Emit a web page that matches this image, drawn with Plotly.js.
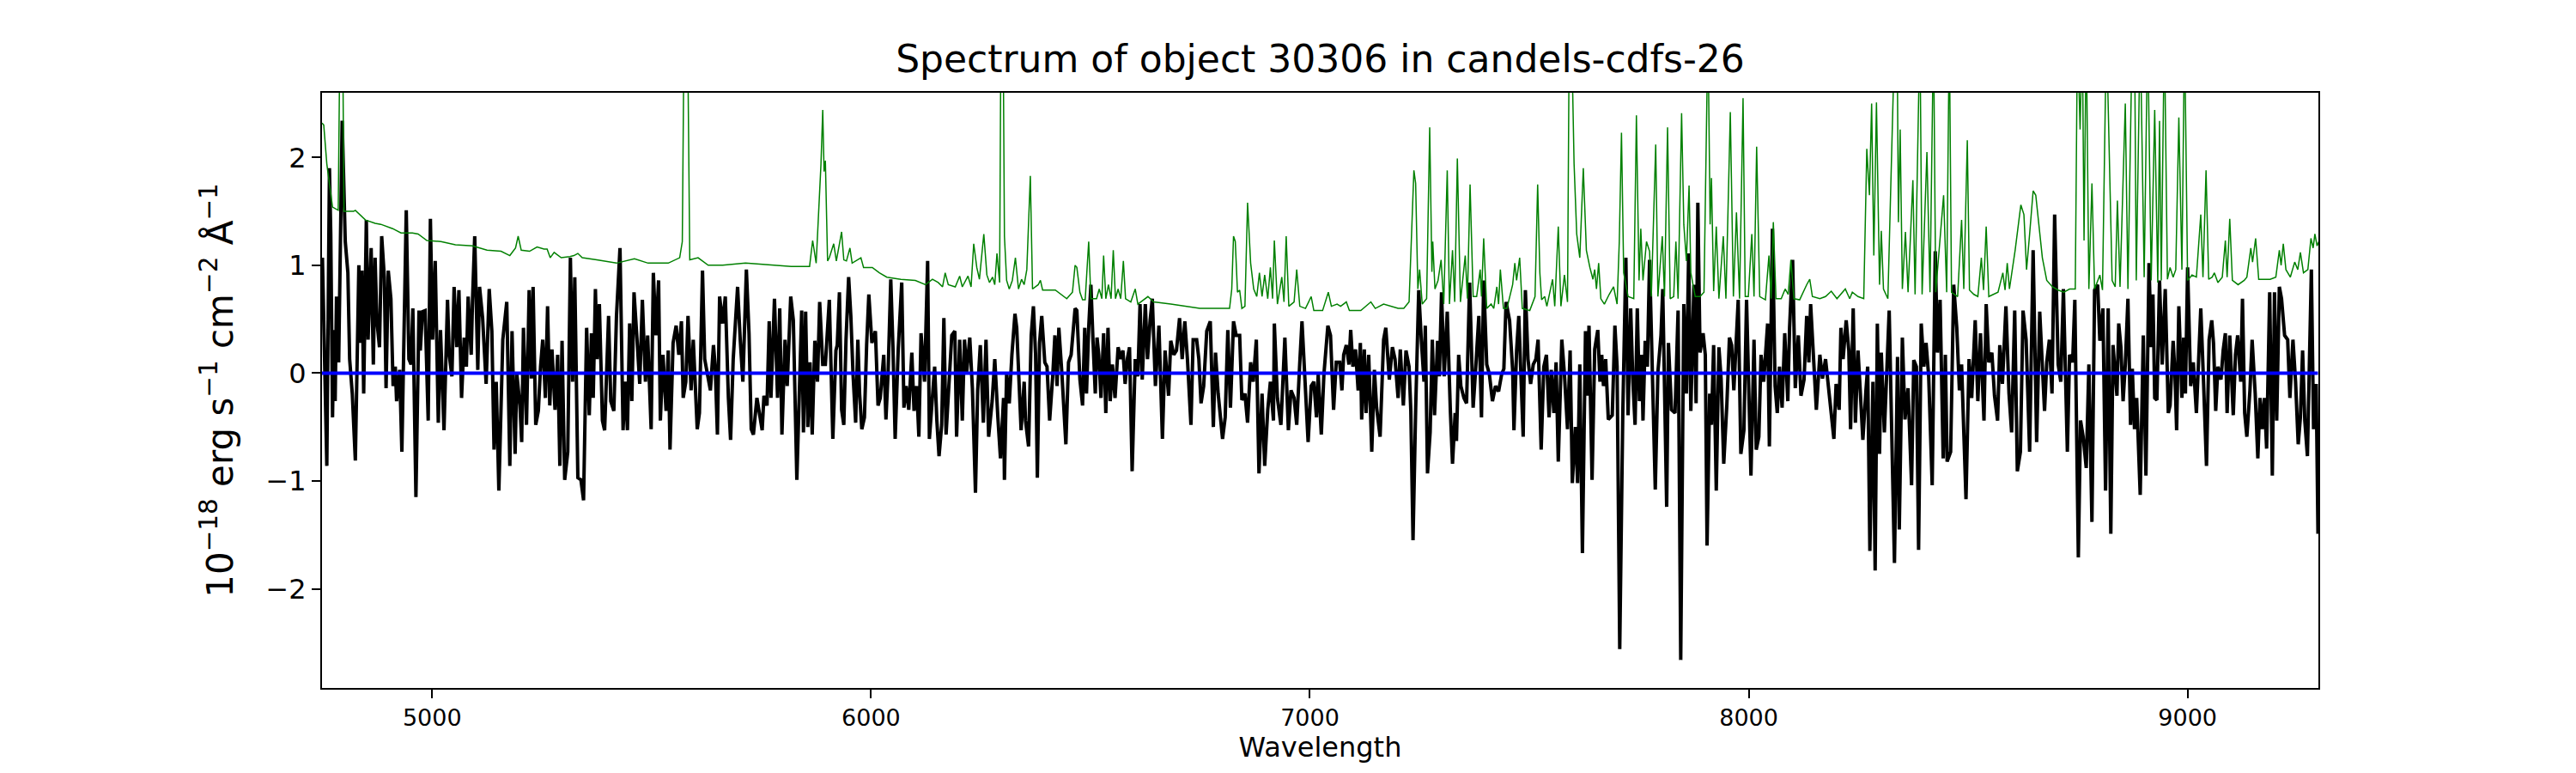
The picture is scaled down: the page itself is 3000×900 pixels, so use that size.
<!DOCTYPE html>
<html>
<head>
<meta charset="utf-8">
<script src="https://cdn.plot.ly/plotly-3.0.1.min.js"></script>
<style>
  html, body { margin: 0; padding: 0; background: #fff; }
  #plot { width: 3000px; height: 900px; }
</style>
</head>
<body>
<div id="plot"></div>
<script>
// object spectrum (Angstrom, 1e-18 erg/s/cm2/A)
var wave = [
  4749,4750,4760,4766,4769,4773,4776,4779,4782,4787,
  4795,4802,4808,4812,4818,4825,4833,4836,4840,4844,
  4850,4854,4861,4866,4870,4874,4880,4885,4891,4895,
  4900,4906,4911,4916,4919,4926,4931,4941,4947,4952,
  4956,4963,4970,4973,4978,4984,4991,4996,5001,5007,
  5014,5019,5027,5035,5039,5045,5050,5056,5061,5067,
  5073,5078,5082,5089,5092,5097,5104,5108,5115,5123,
  5130,5136,5141,5146,5152,5161,5170,5177,5182,5189,
  5193,5200,5204,5208,5215,5221,5226,5230,5236,5242,
  5247,5252,5258,5263,5268,5273,5280,5286,5291,5296,
  5302,5309,5315,5320,5325,
  5332,5339,5345,5352,5358,5363,5367,5372,5376,5381,
  5388,5393,5402,5407,5414,5420,5428,5435,5440,5445,
  5450,5455,5460,5467,5473,5479,5486,5491,5499,5504,
  5510,5516,5520,5526,5533,5538,5542,5549,5556,5562,
  5568,5572,5578,5583,5590,5595,5600,5604,5609,5616,
  5621,5628,5634,5641,5645,5650,5655,5662,5668,5675,
  5680,5686,5696,5702,5708,5716,5722,5727,5732,5740,
  5746,5752,5756,5763,5768,5772,5780,5787,5792,5797,
  5804,5809,5817,5823,5831,5838,5842,5846,5851,5856,
  5861,5866,5872,5878,5883,5890,5896,5905,
  5913,5920,5923,5928,5933,5938,5943,5949,5954,5959,
  5965,5970,5974,5979,5985,5990,5995,6002,6010,6016,
  6021,6029,6034,6039,6045,6050,6055,6062,6070,6075,
  6080,6086,6093,6098,6104,6109,6114,6122,6129,6133,
  6139,6145,6150,6155,6161,6166,6171,6179,6184,6191,
  6195,6202,6208,6213,6218,6225,6231,6238,6243,6249,
  6256,6262,6268,6276,6282,6289,6295,6302,6304,6309,
  6315,6321,6328,6332,6337,6342,6349,6352,6359,6365,
  6370,6375,6379,6384,6389,6396,6401,6407,6414,6419,
  6424,6428,6435,6440,6444,6450,6456,6465,6469,6476,
  6482,6487,
  6491,6496,6501,6506,6511,6515,6519,6524,6530,6535,
  6540,6545,6550,6556,6563,6569,6574,6579,6584,6589,
  6595,6602,6608,6613,6618,6625,6630,6636,6641,6648,
  6656,6664,6670,6678,6683,6690,6696,6703,6709,6715,
  6721,6729,6734,6742,6747,6752,6758,6765,6773,6780,
  6785,6791,6796,6801,6807,6813,6819,6826,6832,6840,
  6845,6852,6858,6865,6871,6878,6884,6891,6897,6904,
  6910,6917,6919,6926,6934,6943,6951,6957,6964,6970,
  6977,6982,6989,6996,7003,7009,7015,7019,7026,7032,
  7041,7047,7054,7060,7068,7073,
  7077,7083,7089,7093,7098,7104,7110,7115,7118,7124,
  7128,7134,7141,7147,7152,7160,7168,7173,7181,7188,
  7194,7201,7206,7213,7219,7226,7230,7235,7241,7248,
  7254,7260,7263,7268,7274,7279,7284,7291,7295,7300,
  7306,7313,7320,7325,7331,7334,7339,7344,7351,7357,
  7364,7372,7377,7385,7391,7396,7403,7409,7416,7423,
  7430,7437,7442,7447,7455,7462,7465,7471,7476,7481,
  7486,7491,7497,7503,7509,7515,7520,7527,7533,7539,
  7545,7550,7556,7561,7566,7574,7580,7587,7593,7598,
  7605,7610,7615,7621,7628,7632,7636,7643,7649,
  7656,7661,7665,7669,7674,7680,7689,7695,7700,7706,
  7713,7720,7725,7731,7736,7741,7746,7751,7756,7759,
  7764,7769,7774,7780,7787,7793,7800,7804,7813,7817,
  7824,7832,7839,7845,7852,7858,7863,7868,7875,7880,
  7884,7889,7896,7901,7905,7911,7915,7920,7926,7932,
  7937,7943,7950,7956,7961,7966,7971,7976,7982,7989,
  7995,8000,8005,8012,8017,8023,8028,8034,8043,8047,
  8054,8060,8065,8070,8076,8082,8089,8093,8100,8106,
  8113,8119,8126,8132,8137,8141,8147,8154,8162,8168,
  8175,8181,8188,8194,8199,8206,8210,8215,8222,8228,
  8232,8238,
  8243,8249,8254,8260,8267,8271,8276,8283,8288,8293,
  8298,8302,8309,8314,8320,8326,8332,8339,8343,8350,
  8356,8363,8371,8376,8382,8387,8393,8399,8404,8410,
  8418,8425,8430,8436,8443,8448,8452,8460,8467,8474,
  8480,8485,8490,8495,8502,8508,8516,8522,8528,8536,
  8541,8547,8554,8560,8567,8572,8578,8586,8593,8599,
  8606,8612,8619,8625,8632,8640,8648,8656,8663,8669,
  8674,8679,8685,8691,8697,8705,8711,8717,8721,8726,
  8731,8738,8743,8751,8756,8762,8769,8775,8782,8788,
  8795,8800,8807,8813,8819,
  8825,8830,8835,8839,8843,8848,8853,8858,8864,8870,
  8874,8879,8884,8892,8899,8905,8912,8917,8921,8925,
  8930,8936,8942,8949,8956,8960,8967,8971,8975,8980,
  8987,8991,8995,9000,9007,9013,9020,9024,9030,9036,
  9043,9049,9055,9059,9064,9069,9076,9081,9086,9090,
  9096,9104,9109,9114,9121,9125,9130,9135,9142,9147,
  9154,9160,9165,9170,9175,9180,9187,9193,9198,9203,
  9209,9214,9221,9228,9233,9240,9246,9252,9257,9262,
  9267,9273,9277,9282,9287,9293,9297
];
var flux = [
  0.50,1.07,-0.86,1.90,1.29,-0.41,0.40,-0.26,0.71,0.10,
  2.34,1.22,0.93,0.13,-0.19,-0.81,1.00,0.28,0.95,-0.19,
  1.42,0.31,1.16,0.08,1.07,0.49,0.24,1.27,0.89,-0.14,
  0.95,0.69,-0.12,0.06,-0.26,0.03,-0.73,1.51,0.13,0.08,
  0.60,-1.15,0.58,0.21,0.57,0.58,-0.44,1.43,0.31,1.04,
  -0.46,0.40,-0.53,0.68,0.17,-0.03,0.80,0.24,0.77,-0.23,
  0.33,0.06,0.71,0.17,0.68,1.27,0.03,0.80,0.51,-0.10,
  0.78,0.39,-0.71,-0.08,-1.09,0.31,0.66,-0.86,0.39,-0.75,
  -0.01,-0.30,-0.64,0.42,-0.48,0.77,-0.05,0.80,-0.48,-0.35,
  0.06,0.31,-0.23,0.62,-0.30,0.22,-0.34,0.17,-0.86,0.30,
  -0.99,-0.73,1.07,-0.08,0.89,
  -0.97,-0.99,-1.18,0.42,-0.39,0.37,-0.23,0.78,0.13,0.64,
  -0.44,-0.53,0.53,-0.26,-0.35,0.53,1.16,-0.53,-0.08,-0.53,
  0.46,-0.26,0.75,0.30,-0.10,0.68,-0.08,0.35,-0.52,0.93,
  0.35,0.86,-0.44,0.17,-0.35,0.21,-0.71,0.28,0.44,0.17,
  0.48,-0.23,-0.08,0.53,-0.16,0.31,-0.21,-0.52,-0.37,0.95,
  0.13,-0.01,-0.16,0.26,0.06,-0.57,0.71,0.46,0.71,-0.23,
  -0.62,0.13,0.80,0.31,-0.08,0.96,0.37,-0.52,-0.57,-0.23,
  -0.39,-0.53,-0.21,-0.30,0.48,-0.23,0.69,-0.23,0.60,-0.57,
  0.31,-0.12,0.71,0.49,-0.99,-0.08,0.58,-0.55,0.57,-0.50,
  0.10,-0.57,0.30,-0.08,0.66,0.08,0.08,0.68,
  -0.61,0.21,0.26,0.75,-0.34,-0.48,0.31,0.89,0.53,-0.01,
  -0.46,0.31,-0.19,-0.52,-0.41,0.26,0.73,0.28,0.39,-0.30,
  -0.23,0.17,-0.43,0.01,0.87,0.24,-0.61,0.22,0.84,-0.32,
  -0.12,-0.34,0.19,-0.35,-0.12,-0.59,0.37,-0.08,1.04,-0.61,
  -0.23,0.06,-0.44,-0.77,-0.48,0.51,-0.57,-0.01,0.35,0.39,
  -0.59,0.31,-0.44,0.31,0.01,0.33,-0.14,-1.11,-0.16,0.26,
  -0.46,0.31,-0.59,-0.26,0.13,-0.41,-0.79,-0.23,-0.99,0.01,
  -0.28,0.17,0.55,0.42,-0.03,-0.53,-0.08,-0.44,-0.68,0.35,
  0.62,0.17,-0.97,0.28,0.53,0.10,0.06,-0.44,-0.03,0.35,
  -0.12,0.42,-0.01,-0.41,-0.66,0.10,0.17,0.60,0.58,-0.06,
  -0.30,0.42,
  -0.19,0.42,0.82,0.28,-0.19,0.33,0.17,-0.23,0.37,-0.37,
  0.42,-0.26,0.08,-0.23,0.24,0.13,0.21,-0.10,0.13,0.24,
  -0.91,0.13,-0.03,0.64,-0.06,0.64,0.13,0.49,0.69,-0.12,
  0.44,-0.61,0.21,-0.21,0.30,0.17,0.21,0.51,0.13,0.48,
  0.13,-0.48,0.31,0.31,0.13,-0.28,-0.12,0.39,0.48,-0.50,
  0.19,-0.19,-0.41,-0.61,-0.41,0.40,-0.32,0.48,0.35,0.35,
  -0.25,-0.19,-0.46,0.10,-0.08,0.31,-0.93,-0.19,-0.86,-0.34,
  -0.08,-0.44,0.46,-0.23,-0.48,0.33,-0.53,-0.16,-0.23,-0.48,
  0.10,0.48,-0.08,-0.64,-0.12,-0.08,-0.41,-0.01,-0.57,-0.01,
  0.44,0.35,-0.34,0.10,0.10,-0.16,
  0.17,0.26,0.08,0.40,0.06,0.22,-0.16,0.28,-0.43,0.22,
  -0.37,0.17,-0.73,0.03,-0.32,-0.59,0.31,0.42,-0.06,0.24,
  0.13,-0.23,0.22,-0.30,0.21,0.06,-0.35,-1.55,-0.34,0.77,
  0.30,-0.08,0.44,-0.93,-0.55,0.31,-0.39,0.30,-0.03,0.75,
  -0.03,0.57,-0.34,-0.84,-0.37,-0.63,0.17,-0.12,-0.23,-0.28,
  0.84,-0.32,-0.01,0.53,-0.41,0.86,0.08,-0.01,-0.26,-0.12,
  -0.17,-0.01,0.04,0.66,0.49,0.03,-0.53,0.21,0.53,-0.01,
  -0.59,0.77,0.13,-0.10,0.08,0.13,0.31,-0.71,0.06,0.17,
  -0.41,0.03,-0.37,0.10,-0.82,0.31,-0.01,-0.52,0.21,-1.02,
  -0.50,-1.02,0.08,-1.67,0.39,-0.21,0.44,-0.99,0.22,
  0.40,-0.08,0.17,-0.12,0.13,-0.43,-0.39,0.44,0.06,-2.56,
  -0.37,1.07,-0.39,0.60,-0.08,-0.48,0.60,-0.26,0.17,-0.44,
  0.30,0.06,1.05,-0.03,-1.08,0.01,0.35,0.78,-1.24,0.28,
  -0.34,-0.37,0.58,-2.66,0.64,-0.19,1.11,-0.35,0.82,-0.28,
  1.58,0.19,0.37,0.17,-1.60,-0.19,-0.48,0.26,-1.09,0.24,
  -0.05,-0.84,-0.30,0.33,0.26,-0.16,0.28,0.68,-0.75,-0.53,
  0.68,-0.23,-0.95,0.31,-0.71,-0.59,0.17,-0.08,0.46,-0.68,
  1.34,-0.12,-0.37,0.06,-0.32,0.37,-0.26,0.42,1.05,-0.14,
  0.35,-0.21,-0.06,0.53,0.10,0.64,0.12,-0.34,0.17,-0.05,
  0.13,-0.12,-0.41,-0.61,-0.10,-0.34,0.42,0.13,0.49,0.21,
  -0.52,0.60,
  -0.46,0.21,-0.16,-0.62,-0.16,0.06,-1.65,-0.08,-1.83,0.46,
  -0.75,0.19,-0.55,0.01,0.58,-0.59,-1.76,0.15,-1.45,0.33,
  -0.43,-0.14,-1.04,0.12,0.06,-1.64,0.46,0.06,0.28,-0.03,
  -1.04,1.13,0.19,0.68,-0.79,0.17,-0.82,-0.73,0.82,0.42,
  -0.16,0.08,-0.50,-1.17,0.13,-0.23,0.49,-0.26,0.37,-0.44,
  0.64,0.10,0.19,-0.21,-0.44,0.26,-0.10,0.62,-0.19,-0.55,
  0.58,-0.91,-0.73,0.58,0.31,-0.73,1.14,-0.64,0.57,0.06,
  -0.35,0.10,0.31,-0.19,1.47,0.08,-0.08,0.78,0.21,-0.73,
  0.17,0.10,0.68,-1.71,-0.44,-0.59,-0.88,0.08,-1.38,0.77,
  0.82,0.30,0.60,-1.09,0.60,
  -1.49,0.26,-0.01,-0.21,0.46,0.24,-0.26,0.08,0.69,-0.48,
  0.04,-0.52,-0.23,-1.13,0.35,-0.95,1.02,0.24,0.73,-0.23,
  -0.25,0.86,0.08,0.78,-0.37,-0.30,0.30,0.01,-0.53,0.62,
  -0.23,0.33,-0.19,0.98,-0.12,0.10,-0.37,0.10,0.60,-0.05,
  -0.86,0.31,0.49,0.28,-0.35,0.06,-0.06,0.21,0.37,-0.37,
  0.35,-0.39,0.17,0.35,-0.08,0.69,-0.37,-0.59,-0.16,0.31,
  -0.19,-0.79,-0.23,-0.52,-0.23,-0.70,0.75,-0.95,0.75,-0.44,
  0.80,0.69,0.35,0.31,-0.23,0.31,-0.08,-0.66,-0.41,0.21,
  -0.44,-0.77,0.17,0.96,-0.52,-0.10,-1.49
];

// noise / sky spectrum (green)
var noiseWave = [
  4749,4753,4760,4765,4773,4786,4790,4796,4799,4821,
  4825,4848,4870,4883,4910,4929,4955,4968,4988,5020,
  5053,5092,5125,5157,5177,5190,5196,5203,5222,5239,
  5255,5262,5269,5278,5294,5314,
  5323,5332,5342,5375,5420,5461,5492,5538,5564,5570,
  5574,5582,5587,5606,5629,5662,5714,5779,5818,5860,
  5867,5875,5886,5890,5893,5896,5901,
  5905,5915,5921,5933,5938,5944,5952,5957,5977,5983,
  6003,6019,6036,6068,6101,6124,6140,6153,6163,6169,
  6176,6192,6202,6208,6221,6228,6234,6241,6247,6257,
  6264,6270,6277,6282,6287,6293,6296,6301,6304,6309,
  6315,6322,6329,6336,6343,6349,6355,6363,6368,6381,
  6386,6391,6420,6446,6459,6465,6469,6476,6482,
  6488,6496,6501,6514,6520,6526,6530,6535,6541,6547,
  6552,6557,6563,6569,6575,6580,6592,6602,6608,6631,
  6644,6683,6716,6749,6781,6817,6822,6826,6830,6835,
  6840,6845,6852,6858,6865,6872,6879,6885,6891,6897,
  6904,6910,6915,6919,6926,6936,6941,6946,6952,6964,
  6970,6977,6990,7003,7009,7029,7042,7049,7062,
  7070,7083,7090,7116,7139,7149,7168,7201,7214,7226,
  7237,7241,7246,7250,7256,7266,7273,7278,7280,7285,
  7292,7299,7305,7313,7318,7325,7330,7336,7343,7354,
  7359,7365,7372,7380,7388,7391,7396,7403,7413,7419,
  7426,7430,7434,7441,7449,7462,7467,7471,7478,7484,
  7501,7513,7519,7524,7528,7535,7540,7553,7558,7566,
  7572,7580,7587,7591,7596,7602,7608,7615,7623,7630,
  7638,7645,7649,
  7653,7658,7663,7671,7682,7692,7700,7705,7710,7715,
  7725,7738,7744,7750,7754,7759,7767,7774,7778,7788,
  7793,7803,7808,7815,7821,7829,7834,7839,7847,7852,
  7858,7864,7868,7878,7889,7898,7907,7912,7915,7920,
  7926,7932,7942,7948,7958,7965,7972,7979,7987,7992,
  7999,8007,8012,8018,8025,8038,8046,8051,8056,8062,
  8074,8083,8090,8096,8103,8116,8132,8139,8145,8162,
  8175,8188,8201,8220,8230,
  8236,8249,8262,8269,8275,8280,8285,8291,8298,8302,
  8307,8317,8333,8338,8341,8345,8350,8357,8363,8374,
  8379,8390,8395,8406,8413,8421,8426,8444,8451,8457,
  8462,8476,8485,8490,8498,8503,8513,8522,8530,8535,
  8541,8547,8568,8579,8584,8589,8594,8607,8620,8627,
  8633,8640,8648,8654,8663,8669,8679,8692,8705,8718,
  8731,8744,8749,8755,8760,8764,8769,8775,8782,8788,
  8800,8806,8815,
  8823,8828,8835,8840,8846,8858,8864,8874,8879,8883,
  8892,8901,8909,8917,8925,8932,8936,8940,8947,8954,
  8960,8967,8973,8980,8987,8993,9000,9010,9020,9030,
  9035,9042,9048,9056,9061,9069,9079,9086,9090,9096,
  9102,9115,9129,9135,9144,9148,9155,9162,9175,9188,
  9201,9209,9213,9218,9224,9234,9244,9251,9257,9264,
  9274,9281,9286,9290,9295,9299
];
var noise = [
  2.32,2.30,1.94,1.79,1.54,1.51,3.20,3.20,1.50,1.50,
  1.51,1.42,1.39,1.38,1.34,1.30,1.30,1.29,1.23,1.22,
  1.19,1.18,1.14,1.13,1.09,1.16,1.27,1.14,1.13,1.17,
  1.15,1.15,1.07,1.12,1.07,1.08,
  1.09,1.11,1.07,1.05,1.02,1.06,1.02,1.02,1.07,1.22,
  3.20,3.20,1.05,1.07,1.00,1.00,1.02,1.00,0.99,0.99,
  1.23,1.02,1.94,2.44,1.87,1.97,1.04,
  1.07,1.20,1.04,1.31,1.05,1.04,1.16,1.02,1.07,0.98,
  0.98,0.93,0.89,0.87,0.86,0.82,0.87,0.84,0.80,0.93,
  0.82,0.80,0.90,0.80,0.90,0.80,1.20,0.98,0.87,1.29,
  0.91,0.84,0.89,0.82,1.11,0.84,3.20,3.20,1.27,0.86,
  0.78,0.86,1.07,0.78,0.87,0.82,0.96,1.83,0.78,0.82,
  0.86,0.77,0.77,0.69,0.75,1.00,0.98,0.75,0.68,
  0.68,1.22,0.69,0.69,0.78,0.69,1.09,0.69,0.82,0.69,
  1.14,0.69,0.78,0.69,1.04,0.69,0.66,0.78,0.64,0.71,
  0.66,0.64,0.62,0.60,0.60,0.60,0.78,1.27,1.22,0.75,
  0.77,0.60,0.62,1.58,1.02,0.78,0.71,0.93,0.71,0.91,
  0.69,0.98,0.69,1.23,0.64,0.89,0.66,1.27,0.62,0.66,
  0.96,0.62,0.60,0.71,0.58,0.58,0.75,0.62,0.64,
  0.62,0.66,0.58,0.58,0.66,0.60,0.64,0.60,0.60,0.66,
  1.88,1.76,0.78,0.96,0.64,0.69,2.28,0.94,1.22,0.78,
  0.86,1.05,0.64,1.88,0.64,1.14,0.66,1.99,0.66,1.09,
  0.69,1.75,0.71,0.71,0.96,0.71,1.25,0.60,0.64,0.60,
  0.80,0.64,0.96,0.60,0.60,0.82,1.02,0.86,1.07,0.60,
  0.58,0.71,1.75,0.93,0.68,0.71,0.62,0.87,0.62,1.36,
  0.62,0.91,0.66,3.20,3.20,1.94,1.29,1.07,1.90,1.14,
  0.98,0.87,0.96,
  0.78,1.02,0.69,0.64,0.73,0.80,0.64,1.22,2.23,0.93,
  0.71,0.69,2.39,0.86,1.34,0.86,1.22,1.13,0.71,2.12,
  0.71,1.27,0.71,2.28,0.69,0.71,1.22,0.69,2.41,1.38,
  1.04,1.74,0.93,0.71,0.71,0.75,3.20,1.38,1.81,0.76,
  1.36,0.69,1.27,0.69,2.42,0.71,1.49,0.69,2.55,0.71,
  0.71,1.29,0.71,2.10,0.71,0.68,1.09,0.69,1.40,0.69,
  0.69,0.78,0.73,1.05,0.69,0.68,0.82,0.87,0.71,0.69,
  0.71,0.76,0.69,0.78,0.69,
  0.75,0.71,0.69,2.08,1.65,2.50,1.09,2.51,0.82,1.32,
  0.78,0.69,3.20,3.20,1.40,2.26,0.78,1.31,0.75,1.79,
  0.73,3.20,0.73,2.05,0.75,3.20,0.75,1.65,0.75,3.20,
  0.75,0.71,1.42,0.78,2.16,0.77,0.73,0.71,1.07,0.77,
  1.36,0.71,0.75,0.93,0.77,1.02,0.78,1.14,1.56,1.47,
  0.96,1.29,1.69,1.65,1.29,1.07,0.86,0.80,0.77,0.75,
  0.78,0.78,3.20,2.26,3.20,1.23,3.20,0.78,1.76,0.78,
  0.91,0.77,3.20,
  1.72,0.86,0.80,1.60,0.80,2.50,0.78,3.20,3.20,0.86,
  3.20,0.89,3.20,0.86,2.44,0.84,2.34,0.86,3.20,0.87,
  0.98,0.89,0.96,2.37,0.96,3.20,0.86,0.91,0.89,1.47,
  0.89,1.88,0.87,0.89,0.93,0.84,0.89,1.23,0.89,1.43,
  0.86,0.82,0.86,0.89,1.16,1.03,1.25,0.87,0.87,0.87,
  0.89,1.14,1.00,1.20,0.96,0.89,1.03,0.96,1.12,0.93,
  0.96,1.25,1.16,1.29,1.18,1.22
];

// zero level (blue)
var zeroWave = [4749, 6000, 7000, 8000, 9297];
var zero = [0, 0, 0, 0, 0];

var xTicks = [5000, 6000, 7000, 8000, 9000];
var yTicks = [-2, -1, 0, 1, 2];

var font = 'DejaVu Sans, Liberation Sans, sans-serif';

var spec = {
  x: wave, y: flux,
  type: 'scatter', mode: 'lines',
  line: {color: 'black', width: 4},
  hoverinfo: 'skip'
};
var sky = {
  x: noiseWave, y: noise,
  type: 'scatter', mode: 'lines',
  line: {color: 'green', width: 1.5},
  hoverinfo: 'skip'
};
var flat = {
  x: zeroWave, y: zero,
  type: 'scatter', mode: 'lines',
  line: {color: 'blue', width: 4},
  hoverinfo: 'skip'
};

var layout = {
  width: 3000,
  height: 900,
  margin: {l: 375, r: 300, t: 108, b: 99},
  paper_bgcolor: 'white',
  plot_bgcolor: 'white',
  showlegend: false,
  hovermode: false,
  title: {
    text: 'Spectrum of object 30306 in candels-cdfs-26',
    font: {family: font, size: 44, color: 'black'},
    x: 0.5, xref: 'paper', xanchor: 'center',
    y: 0.924, yref: 'container', yanchor: 'middle'
  },
  xaxis: {
    range: [4749, 9298],
    tickvals: xTicks,
    ticks: 'outside', ticklen: 10, tickwidth: 2, tickcolor: 'black',
    tickfont: {family: font, size: 27, color: 'black'},
    showline: true, mirror: true, linecolor: 'black', linewidth: 2,
    showgrid: false, zeroline: false,
    title: {text: 'Wavelength', font: {family: font, size: 32, color: 'black'}, standoff: 6}
  },
  yaxis: {
    range: [-2.92, 2.6],
    tickvals: yTicks,
    ticks: 'outside', ticklen: 10, tickwidth: 2, tickcolor: 'black',
    tickfont: {family: font, size: 32, color: 'black'},
    showline: true, mirror: true, linecolor: 'black', linewidth: 2,
    showgrid: false, zeroline: false,
    title: {
      text: '10<sup>\u221218</sup> erg s<sup>\u22121</sup> cm<sup>\u22122</sup> \u00c5<sup>\u22121</sup>',
      font: {family: font, size: 42, color: 'black'},
      standoff: 25
    }
  }
};

Plotly.newPlot('plot', [spec, sky, flat], layout, {staticPlot: true, displayModeBar: false});
</script>
</body>
</html>
